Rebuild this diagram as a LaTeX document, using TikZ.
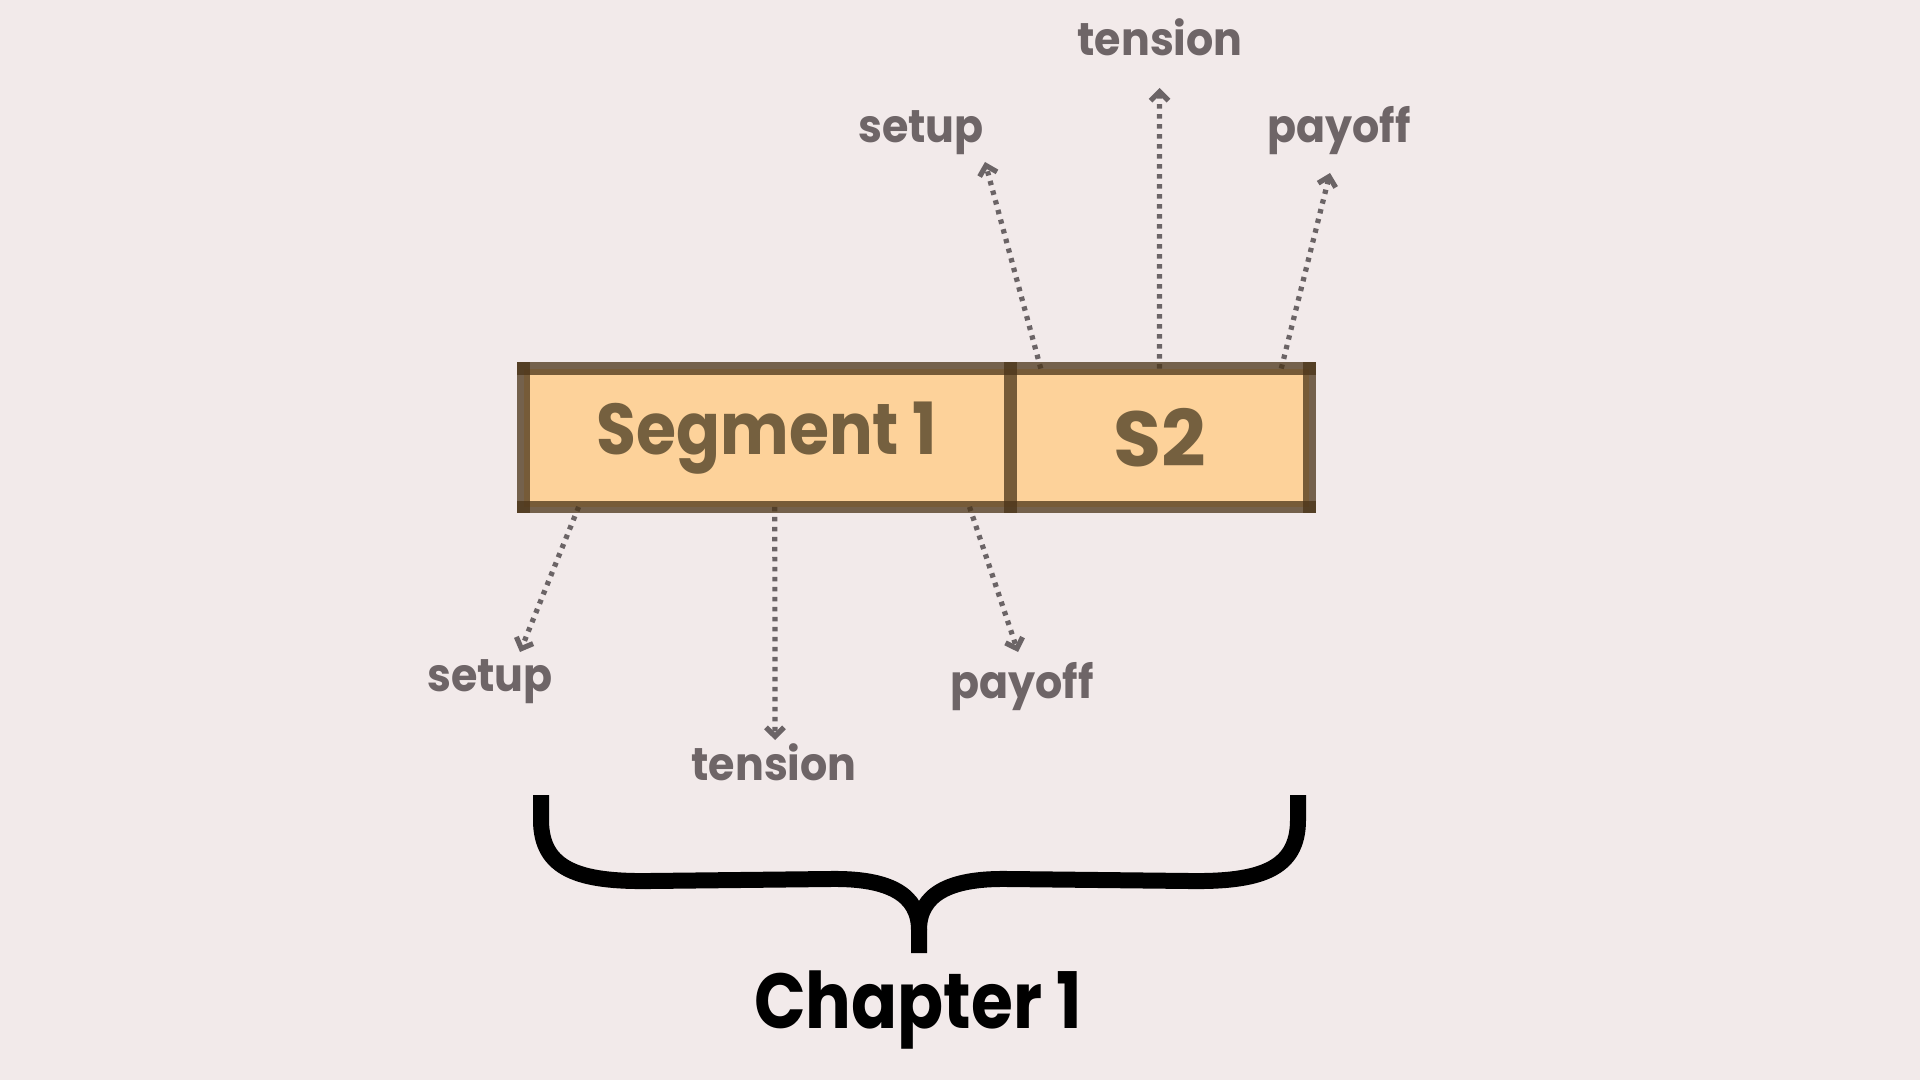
\documentclass[tikz,border=0pt]{standalone}
\usepackage{fontspec}
\setmainfont{Poppins}
\newfontfamily\segfont{Poppins}[FakeStretch=0.9]
\newfontfamily\lblfont{Poppins}[FakeStretch=0.93]
\newfontfamily\chapfont{Poppins}[FakeStretch=0.87]
\usetikzlibrary{arrows.meta,calc}
\definecolor{bgcol}{HTML}{F2EAEA}
\definecolor{segfill}{HTML}{FDD29A}
\definecolor{edgecol}{HTML}{4A3418}
\definecolor{segtext}{HTML}{75603F}
\definecolor{lblgray}{HTML}{6E6567}
\definecolor{arrgray}{HTML}{6B6466}
\begin{document}
\begin{tikzpicture}[x=0.5pt,y=-0.5pt,
  seg/.style={fill=segfill, inner sep=0pt, minimum height=68.75pt, text=segtext,
    font=\segfont\fontsize{36}{40}\selectfont\bfseries},
  boxedge/.style={draw=edgecol, draw opacity=0.75, line width=6.25pt, line cap=rect},
  lbl/.style={text=lblgray, anchor=base, inner sep=0pt, font=\lblfont\fontsize{23}{26}\selectfont\bfseries},
  conn/.style={draw=arrgray, line width=2.6pt, dash pattern=on 2.2pt off 2.8pt,
    -{Straight Barb[length=4.5pt,width=9pt]}},
  bracestyle/.style={draw=black, line width=8pt, line join=round},
  chap/.style={text=black, anchor=base, inner sep=0pt, font=\chapfont\fontsize{39}{44}\selectfont\bfseries}]
\fill[bgcol] (0,0) rectangle (1920,1080);
\useasboundingbox (0,0) rectangle (1920,1080);

% segments
\node[seg, minimum width=243pt] (seg1) at (767,437.75) {Segment 1};
\node[seg, minimum width=149.5pt, font=\fontsize{39}{42}\selectfont\bfseries] (seg2) at (1159.5,437.75) {S2};

% labels
\node[lbl] (lu1) at (921,143) {setup};
\node[lbl] (lu2) at (1160,56) {tension};
\node[lbl] (lu3) at (1339,143) {payoff};
\node[lbl] (ld1) at (490,691) {setup};
\node[lbl] (ld2) at (774,780) {tension};
\node[lbl] (ld3) at (1022,698) {payoff};

% arrow tips
\coordinate (tu1) at (985,162);
\coordinate (tu2) at (1159.5,88);
\coordinate (tu3) at (1330,173);
\coordinate (td1) at (520,652);
\coordinate (td2) at (775,740);
\coordinate (td3) at (1018,652);

\draw[conn] ($(seg2.north west)!0.104!(seg2.north east)$) -- (tu1);
\draw[conn] ($(seg2.north west)!0.5!(seg2.north east)$) -- (tu2);
\draw[conn] ($(seg2.north west)!0.906!(seg2.north east)$) -- (tu3);
\draw[conn] ($(seg1.south west)!0.113!(seg1.south east)$) -- (td1);
\draw[conn] ($(seg1.south west)!0.516!(seg1.south east)$) -- (td2);
\draw[conn] ($(seg1.south west)!0.916!(seg1.south east)$) -- (td3);

% box edges
\draw[boxedge] (seg1.north west) -- (seg2.north east);
\draw[boxedge] (seg1.south west) -- (seg2.south east);
\draw[boxedge] (seg1.north west) -- (seg1.south west);
\draw[boxedge] (seg2.north east) -- (seg2.south east);
\draw[boxedge] (seg1.north east) -- (seg1.south east);

% brace
\draw[bracestyle] (541,795) -- (541,820) .. controls (541,870) and (580,882) .. (650,881)
  -- (830,879) .. controls (890,878) and (919,895) .. (919,930) -- (919,953);
\draw[bracestyle] (1298,795) -- (1298,820) .. controls (1298,870) and (1259,882) .. (1189,881)
  -- (1008,879) .. controls (948,878) and (919,895) .. (919,930);

\node[chap] (chapter) at (918,1028) {Chapter 1};
\end{tikzpicture}
\end{document}
